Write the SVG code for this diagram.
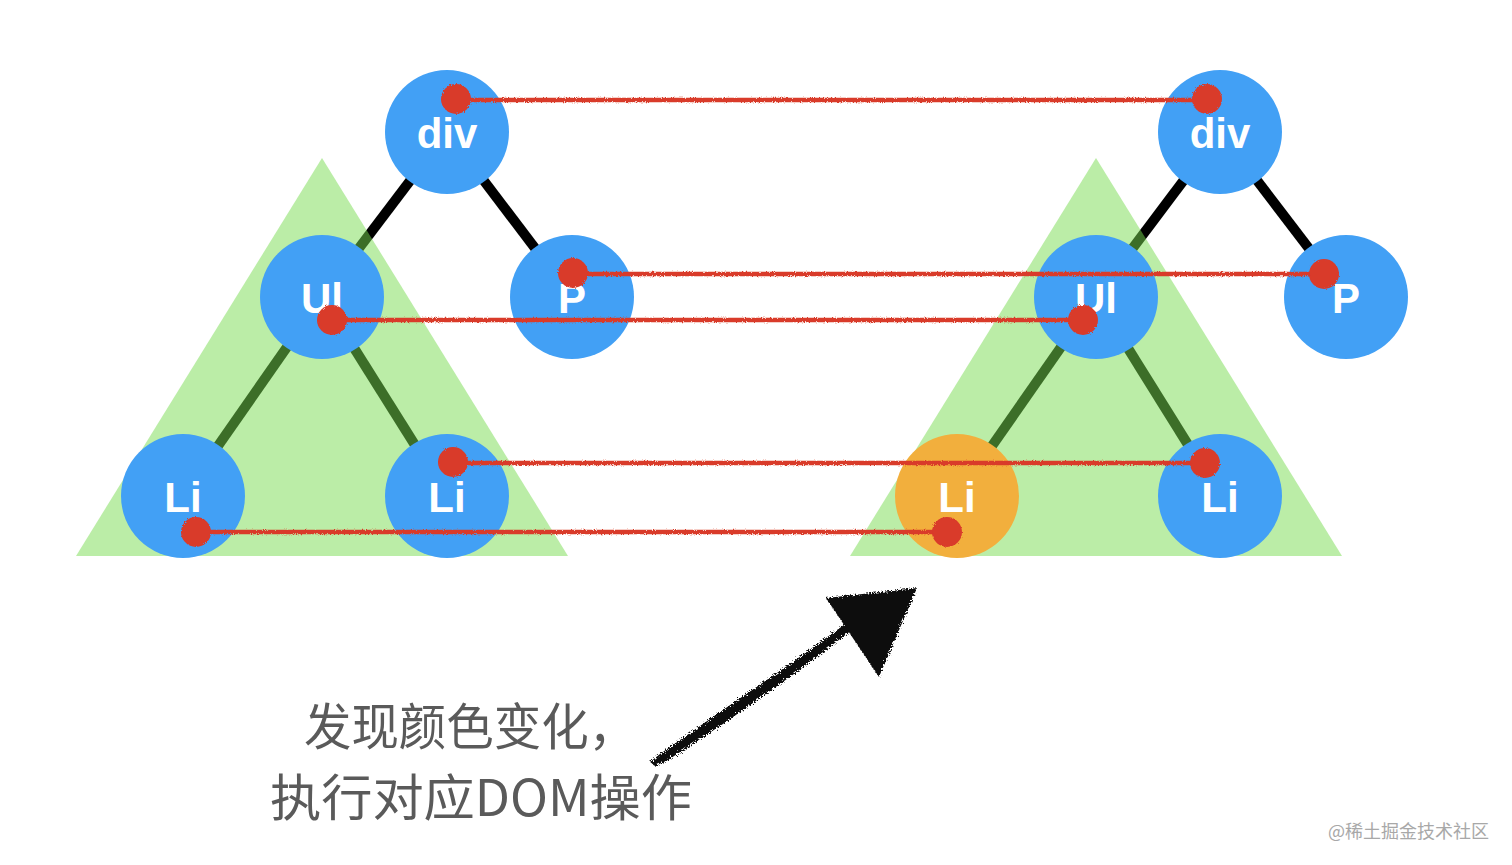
<svg xmlns="http://www.w3.org/2000/svg" width="1512" height="865" viewBox="0 0 1512 865">
<defs>
<style>
.edge{stroke:#000;stroke-width:10;stroke-linecap:butt}
.tri{fill:rgb(120,220,80);fill-opacity:0.5}
.node{fill:#42a0f5}
.hot{fill:#f2af3d}
.lbl{fill:#fff;font-family:"Liberation Sans",Arial,sans-serif;font-weight:bold;font-size:42px;text-anchor:middle}
.red{stroke:#d93a2b;stroke-width:4.5;fill:none}
.dot{fill:#d93a2b}
.cap{fill:#5a5a5a;font-family:"Noto Sans CJK SC","Noto Sans",sans-serif;font-size:50px}
.wm{fill:#a8a8a8;font-family:"Noto Sans CJK SC",sans-serif;font-size:18px}
</style>
<filter id="rough" x="-5%" y="-20%" width="110%" height="140%">
<feTurbulence type="fractalNoise" baseFrequency="0.9" numOctaves="2" seed="3"/>
<feDisplacementMap in="SourceGraphic" scale="3"/>
</filter>
<filter id="rough2" x="-10%" y="-10%" width="120%" height="120%">
<feTurbulence type="fractalNoise" baseFrequency="0.6" numOctaves="2" seed="5"/>
<feDisplacementMap in="SourceGraphic" scale="6"/>
</filter>
</defs>
<rect width="1512" height="865" fill="#fff"/>

<g id="tree-edges">
<line class="edge" x1="447" y1="132" x2="322" y2="297"/>
<line class="edge" x1="447" y1="132" x2="572" y2="297"/>
<line class="edge" x1="322" y1="297" x2="183" y2="496"/>
<line class="edge" x1="322" y1="297" x2="447" y2="496"/>
<line class="edge" x1="1220" y1="132" x2="1096" y2="297"/>
<line class="edge" x1="1220" y1="132" x2="1346" y2="297"/>
<line class="edge" x1="1096" y1="297" x2="957" y2="496"/>
<line class="edge" x1="1096" y1="297" x2="1220" y2="496"/>
</g>

<g id="subtree-left"><polygon class="tri" points="322,158 568,556 76,556"/></g>
<g id="subtree-right"><polygon class="tri" points="1096,158 1342,556 850,556"/></g>

<g id="l-div"><circle class="node" cx="447" cy="132" r="62"/><text class="lbl" x="447" y="148">div</text></g>
<g id="l-ul"><circle class="node" cx="322" cy="297" r="62"/><text class="lbl" x="322" y="313">Ul</text></g>
<g id="l-p"><circle class="node" cx="572" cy="297" r="62"/><text class="lbl" x="572" y="313">P</text></g>
<g id="l-li1"><circle class="node" cx="183" cy="496" r="62"/><text class="lbl" x="183" y="512">Li</text></g>
<g id="l-li2"><circle class="node" cx="447" cy="496" r="62"/><text class="lbl" x="447" y="512">Li</text></g>

<g id="r-div"><circle class="node" cx="1220" cy="132" r="62"/><text class="lbl" x="1220" y="148">div</text></g>
<g id="r-ul"><circle class="node" cx="1096" cy="297" r="62"/><text class="lbl" x="1096" y="313">Ul</text></g>
<g id="r-p"><circle class="node" cx="1346" cy="297" r="62"/><text class="lbl" x="1346" y="313">P</text></g>
<g id="r-li1"><circle class="hot" cx="957" cy="496" r="62"/><text class="lbl" x="957" y="512">Li</text></g>
<g id="r-li2"><circle class="node" cx="1220" cy="496" r="62"/><text class="lbl" x="1220" y="512">Li</text></g>

<g id="connectors" filter="url(#rough)">
<line class="red" x1="456" y1="100" x2="1207" y2="100"/>
<line class="red" x1="573" y1="274" x2="1324" y2="274"/>
<line class="red" x1="332" y1="320" x2="1083" y2="320"/>
<line class="red" x1="453" y1="463" x2="1205" y2="463"/>
<line class="red" x1="196" y1="532" x2="947" y2="532"/>
<circle class="dot" cx="456" cy="99" r="15"/>
<circle class="dot" cx="1207" cy="99" r="15"/>
<circle class="dot" cx="573" cy="273" r="15"/>
<circle class="dot" cx="1324" cy="274" r="15"/>
<circle class="dot" cx="332" cy="320" r="15"/>
<circle class="dot" cx="1083" cy="320" r="15"/>
<circle class="dot" cx="453" cy="462" r="15"/>
<circle class="dot" cx="1205" cy="463" r="15"/>
<circle class="dot" cx="196" cy="532" r="15"/>
<circle class="dot" cx="947" cy="532" r="15"/>
</g>

<g id="arrow" filter="url(#rough2)">
<polygon fill="#111" points="650,762 660,754 720,712 790,664 848,622 852,630 794,674 726,722 668,760 655,766"/>
<polygon fill="#111" points="826,598 917,588 879,677"/>
</g>

<g id="caption">
<text class="cap" x="304" y="745" textLength="332" lengthAdjust="spacingAndGlyphs">发现颜色变化，</text>
<text class="cap" x="270" y="816" textLength="422" lengthAdjust="spacingAndGlyphs">执行对应DOM操作</text>
</g>
<text class="wm" x="1328" y="838">@稀土掘金技术社区</text>
</svg>
